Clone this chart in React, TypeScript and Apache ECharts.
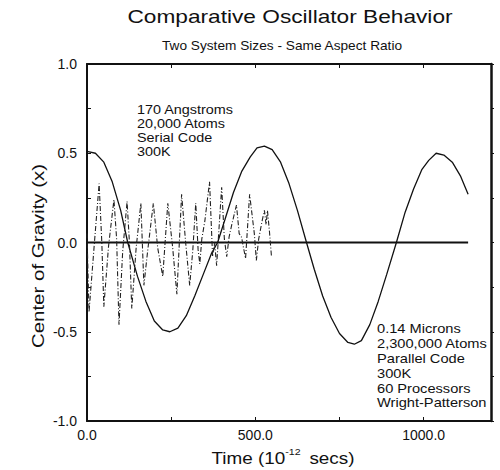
import React, { useEffect, useRef } from "react";
import * as echarts from "echarts";

const bigTime = [0, 25, 50, 75, 100, 121, 150, 175, 200, 225, 246, 270, 295, 320, 345, 370, 388, 410, 435, 460, 485, 505, 527, 550, 575, 600, 625, 652, 675, 700, 725, 750, 775, 794, 815, 840, 865, 890, 919, 945, 970, 995, 1015, 1037, 1060, 1085, 1110, 1132];
const bigValue = [0.51, 0.5, 0.45, 0.34, 0.18, 0.0, -0.19, -0.33, -0.44, -0.49, -0.5, -0.48, -0.41, -0.3, -0.18, -0.06, 0.0, 0.13, 0.28, 0.4, 0.48, 0.53, 0.54, 0.52, 0.45, 0.33, 0.18, 0.0, -0.15, -0.3, -0.42, -0.51, -0.56, -0.57, -0.55, -0.46, -0.33, -0.18, 0.0, 0.17, 0.3, 0.41, 0.46, 0.5, 0.49, 0.45, 0.37, 0.27];

const fastTime = [0, 6, 20, 36, 44, 50, 64, 80, 88, 95, 106, 119, 126, 133, 146, 160, 169, 180, 197, 210, 225, 240, 254, 267, 281, 293, 305, 314, 323, 330, 335, 341, 350, 364, 373, 379, 385, 400, 408, 415, 422, 430, 444, 452, 459, 471, 483, 497, 503, 510, 520, 527, 532, 536, 542, 548];
const fastValue = [0.05, -0.39, -0.05, 0.33, 0.0, -0.36, -0.02, 0.24, 0.02, -0.46, -0.05, 0.23, 0.0, -0.37, -0.03, 0.22, -0.24, -0.05, 0.22, -0.03, -0.19, 0.22, -0.02, -0.29, 0.27, 0.0, -0.24, -0.05, 0.22, -0.04, -0.12, 0.02, 0.12, 0.34, -0.08, 0.0, -0.13, 0.31, 0.02, -0.08, 0.03, 0.1, 0.21, 0.05, 0.03, -0.09, 0.27, 0.05, -0.1, 0.02, 0.12, 0.18, 0.1, 0.18, 0.06, -0.08];

const zeroTime = [0, 1132];
const zeroValue = [0, 0];

const xTickLabels = ["0.0", "500.0", "1000.0"];
const yTickLabels = ["-1.0", "-0.5", "0.0", "0.5", "1.0"];

const smallLabel = ["170 Angstroms", "20,000 Atoms", "Serial Code", "300K"];
const largeLabel = ["0.14 Microns", "2,300,000 Atoms", "Parallel Code", "300K", "60 Processors", "Wright-Patterson"];

const FONT = "'Liberation Sans', Arial, Helvetica, sans-serif";
const INK = "#111";

const zip = (a: number[], b: number[]) => a.map((t, i) => [t, b[i]]);

export default function App() {
  const ref = useRef<HTMLDivElement>(null);
  useEffect(() => {
    if (!ref.current) return;
    const chart = echarts.init(ref.current, null, { renderer: "svg" });
    const xLabel = (v: number) => {
      if (v % 500 !== 0) return "";
      return xTickLabels[v / 500] ?? "";
    };
    const yLabel = (v: number) => {
      const r = Math.round(v * 100) / 100;
      if (Math.abs((r * 2) % 1) > 1e-6) return "";
      return yTickLabels[Math.round(r * 2) + 2] ?? "";
    };
    const axisLine = { show: true, onZero: false, lineStyle: { color: INK, width: 2 } };
    const tickIn = { show: true, inside: true, length: 4, lineStyle: { color: INK, width: 1 } };
    chart.setOption({
      animation: false,
      backgroundColor: "#fff",
      grid: { left: 87, right: 9, top: 64, bottom: 49, containLabel: false },
      xAxis: [
        {
          type: "value",
          min: 0,
          max: 1200,
          interval: 250,
          axisLine,
          axisTick: tickIn,
          splitLine: { show: false },
          axisLabel: { formatter: xLabel, color: INK, fontFamily: FONT, fontSize: 14, margin: 7, showMaxLabel: false },
        },
        {
          type: "value",
          position: "top",
          min: 0,
          max: 1200,
          interval: 250,
          axisLine,
          axisTick: tickIn,
          splitLine: { show: false },
          axisLabel: { show: false },
        },
      ],
      yAxis: [
        {
          type: "value",
          min: -1,
          max: 1,
          interval: 0.25,
          axisLine,
          axisTick: tickIn,
          splitLine: { show: false },
          axisLabel: { formatter: yLabel, color: INK, fontFamily: FONT, fontSize: 14, margin: 10 },
        },
        {
          type: "value",
          position: "right",
          min: -1,
          max: 1,
          interval: 0.25,
          axisLine: { show: true, onZero: false, lineStyle: { color: INK, width: 2.5 } },
          axisTick: { show: true, inside: false, length: 3, lineStyle: { color: INK, width: 1 } },
          splitLine: { show: false },
          axisLabel: { show: false },
        },
      ],
      series: [
        {
          type: "line",
          data: zip(zeroTime, zeroValue),
          symbol: "none",
          lineStyle: { color: INK, width: 2 },
          silent: true,
        },
        {
          type: "line",
          data: zip(bigTime, bigValue),
          symbol: "none",
          lineStyle: { color: INK, width: 1.3 },
        },
        {
          type: "line",
          data: zip(fastTime, fastValue),
          symbol: "none",
          lineStyle: { color: "#222", width: 1.1, type: [5, 2, 1, 2] },
        },
      ],
      graphic: [
        {
          type: "text",
          x: 290,
          y: 16,
          scaleX: 1.26,
          style: { text: "Comparative Oscillator Behavior", font: `18px ${FONT}`, fill: INK, textAlign: "center", textVerticalAlign: "middle" },
        },
        {
          type: "text",
          x: 282,
          y: 46,
          scaleX: 1.14,
          style: { text: "Two System Sizes - Same Aspect Ratio", font: `12px ${FONT}`, fill: INK, textAlign: "center", textVerticalAlign: "middle" },
        },
        {
          type: "text",
          x: 137,
          y: 103,
          scaleX: 1.2,
          style: { text: smallLabel.join("\n"), font: `12px ${FONT}`, lineHeight: 14, fill: INK, textAlign: "left", textVerticalAlign: "top" },
        },
        {
          type: "text",
          x: 377,
          y: 322,
          scaleX: 1.22,
          style: { text: largeLabel.join("\n"), font: `12px ${FONT}`, lineHeight: 14.8, fill: INK, textAlign: "left", textVerticalAlign: "top" },
        },
        {
          type: "text",
          x: 38,
          y: 256,
          rotation: Math.PI / 2,
          scaleX: 1.28,
          style: { text: "Center of Gravity (x)", font: `16px ${FONT}`, fill: INK, textAlign: "center", textVerticalAlign: "middle" },
        },
        {
          type: "text",
          x: 283,
          y: 457,
          scaleX: 1.18,
          style: {
            text: "{a|Time (10}{s|-12}{a| secs)}",
            textAlign: "center",
            textVerticalAlign: "middle",
            rich: {
              a: { fontSize: 16, fontFamily: FONT, fill: INK, color: INK, lineHeight: 20, verticalAlign: "bottom" },
              s: { fontSize: 9, fontFamily: FONT, fill: INK, color: INK, lineHeight: 20, verticalAlign: "top", padding: [0, 3, 0, 0] },
            },
          },
        },
      ],
    });
    return () => chart.dispose();
  }, []);
  return <div ref={ref} style={{ position: "absolute", left: 0, top: 0, width: 500, height: 470 }} />;
}
